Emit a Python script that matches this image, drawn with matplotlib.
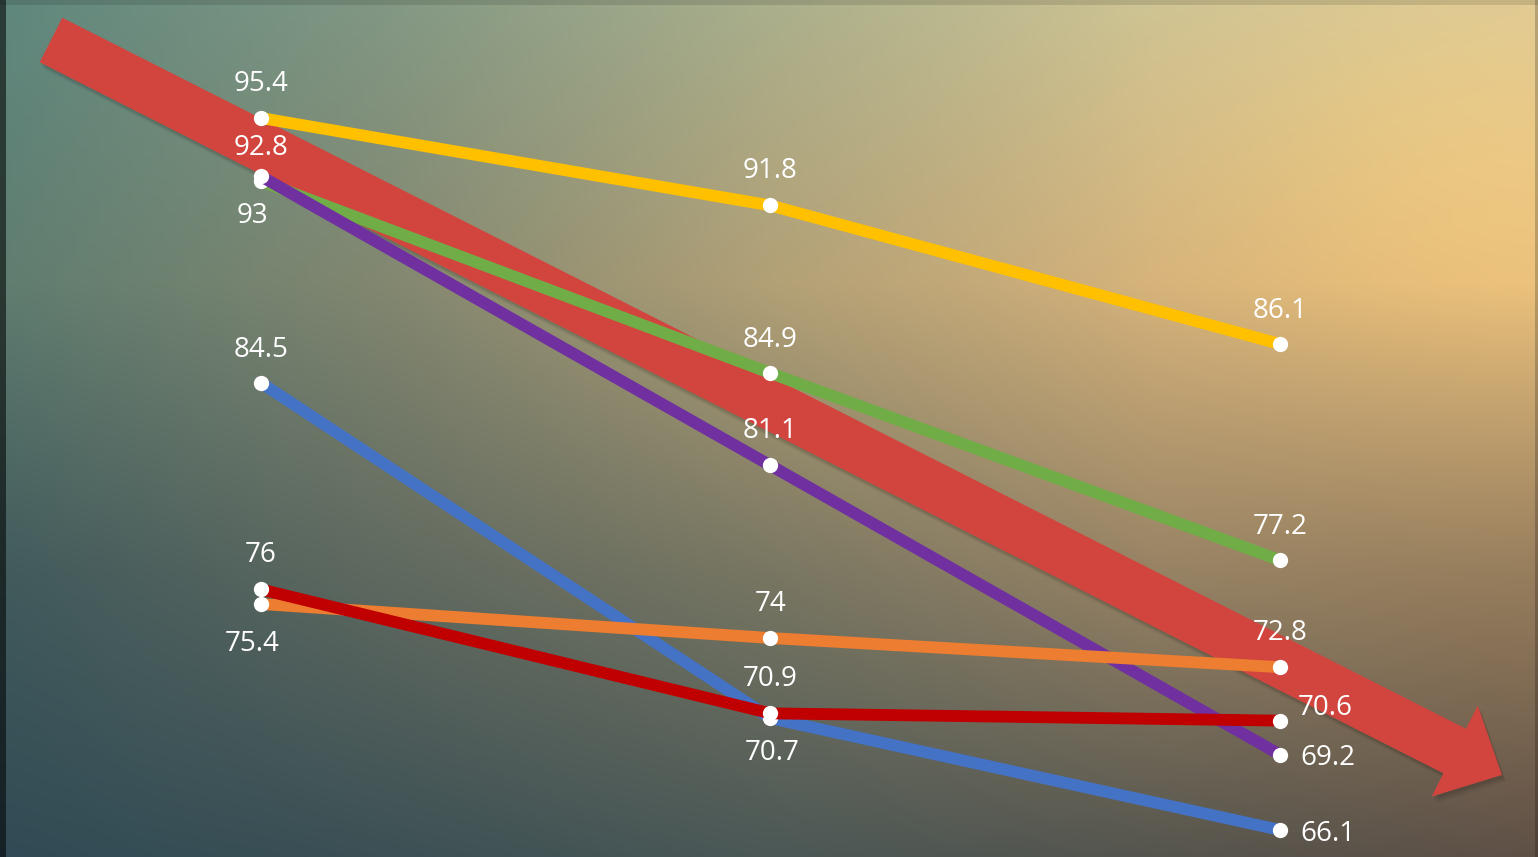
import numpy as np
import matplotlib
matplotlib.use("Agg")
import matplotlib.pyplot as plt
from matplotlib.patches import Polygon

# ---------------- data ----------------
categories = ["1", "2", "3"]
yellow = [95.4, 91.8, 86.1]
green = [92.8, 84.9, 77.2]
purple = [93, 81.1, 69.2]
blue = [84.5, 70.7, 66.1]
orange = [75.4, 74, 72.8]
darkred = [76, 70.9, 70.6]

series_names = ["green", "purple", "blue", "orange", "darkred", "yellow"]
series_values = [green, purple, blue, orange, darkred, yellow]
series_colors = ["#70AD47", "#7030A0", "#4472C4", "#ED7D31", "#C00000", "#FFC000"]
# label placement per point: (dx, dy) offsets in pixels, horizontal alignment
label_pos = [
    [(0, 26, "center"), (0, 26, "center"), (0, 26, "center")],          # green
    [(-9, -47, "center"), (0, 27, "center"), (20, -10, "left")],        # purple
    [(0, 26, "center"), (2, -42, "center"), (20, -11, "left")],         # blue
    [(-9, -47, "center"), (0, 27, "center"), (0, 27, "center")],        # orange
    [(0, 27, "center"), (0, 27, "center"), (18, 6, "left")],            # darkred
    [(0, 27, "center"), (0, 27, "center"), (0, 26, "center")],          # yellow
]

W, H = 1538, 857
fig = plt.figure(figsize=(W / 100, H / 100), dpi=100)

# ---------------- background gradient ----------------
cx = np.array([0, 0.25, 0.5, 0.75, 1.0])
cy = np.array([0, 0.33, 0.67, 1.0])
ctrl = np.array([
    [(95, 135, 125), (130, 152, 132), (170, 175, 140), (205, 195, 148), (220, 200, 150)],
    [(95, 125, 112), (130, 135, 112), (178, 160, 118), (212, 178, 124), (226, 188, 128)],
    [(65, 90, 92), (95, 105, 95), (120, 118, 98), (150, 130, 100), (150, 125, 92)],
    [(48, 75, 85), (60, 80, 85), (75, 88, 86), (85, 85, 78), (95, 80, 70)],
], dtype=float)
xs = np.linspace(0, 1, W)
ys = np.linspace(0, 1, H)
rows = np.zeros((len(cy), W, 3))
for r in range(len(cy)):
    for c in range(3):
        rows[r, :, c] = np.interp(xs, cx, ctrl[r, :, c])
yi = np.interp(ys, cy, np.arange(len(cy)))
i0 = np.clip(np.floor(yi).astype(int), 0, len(cy) - 2)
t = (yi - i0)[:, None, None]
img = rows[i0] * (1 - t) + rows[i0 + 1] * t
# warm glow top right
XX, YY = np.meshgrid(np.arange(W), np.arange(H))
glow = np.exp(-(((XX - 1450) / 260.0) ** 2 + ((YY - 180) / 200.0) ** 2))
img = img + glow[:, :, None] * np.array([14, 8, -6])
# frame strips
img[:, :6] *= 0.45
img[:5, :] *= 0.88
img[:, 1535:] *= 0.8
img = np.clip(img / 255.0, 0, 1)

bg = fig.add_axes([0, 0, 1, 1])
bg.imshow(img, extent=[0, W, H, 0], aspect="auto", interpolation="bilinear")
bg.set_xlim(0, W)
bg.set_ylim(H, 0)
bg.axis("off")

# ---------------- decorative arrow ----------------
T = np.array([51.0, 40.0])
P = np.array([1502.0, 775.0])
u = (P - T) / np.linalg.norm(P - T)
n = np.array([-u[1], u[0]])
w, hw, hl = 25.0, 51.0, 53.0
B = P - hl * u
pts = [T + w * n, B + w * n, B + hw * n, P, B - hw * n, B - w * n, T - w * n]
for k, a in [(7, 0.04), (5, 0.06), (3, 0.08)]:
    sh = [p + np.array([k * 0.6, k]) for p in pts]
    bg.add_patch(Polygon(sh, closed=True, facecolor="black", edgecolor="none", alpha=a, zorder=2))
bg.add_patch(Polygon(pts, closed=True, facecolor="#D2453F", edgecolor="none", zorder=3))

# ---------------- chart ----------------
ax = fig.add_axes([0, 0, 1, 1])
ax.patch.set_alpha(0)
x = np.arange(len(categories))
for vals, col, lp in zip(series_values, series_colors, label_pos):
    ax.plot(x, vals, color=col, lw=8.5, solid_capstyle="butt", zorder=3,
            marker="o", markersize=11, markerfacecolor="white", markeredgecolor="white",
            markeredgewidth=0)
    for xi, v, (dx, dy, ha) in zip(x, vals, lp):
        ax.annotate(f"{v:g}", (xi, v), xytext=(dx, dy), textcoords="offset pixels",
                    ha=ha, va="baseline", color="white", fontsize=20,
                    family=["Open Sans", "DejaVu Sans"], zorder=5)

ax.set_xlim(-261 / 509.5, (W - 261) / 509.5)
ax.set_ylim(95.4 - (H - 118) / 24.3, 95.4 + 118 / 24.3)
ax.axis("off")

fig.savefig("out.png", dpi=100)
